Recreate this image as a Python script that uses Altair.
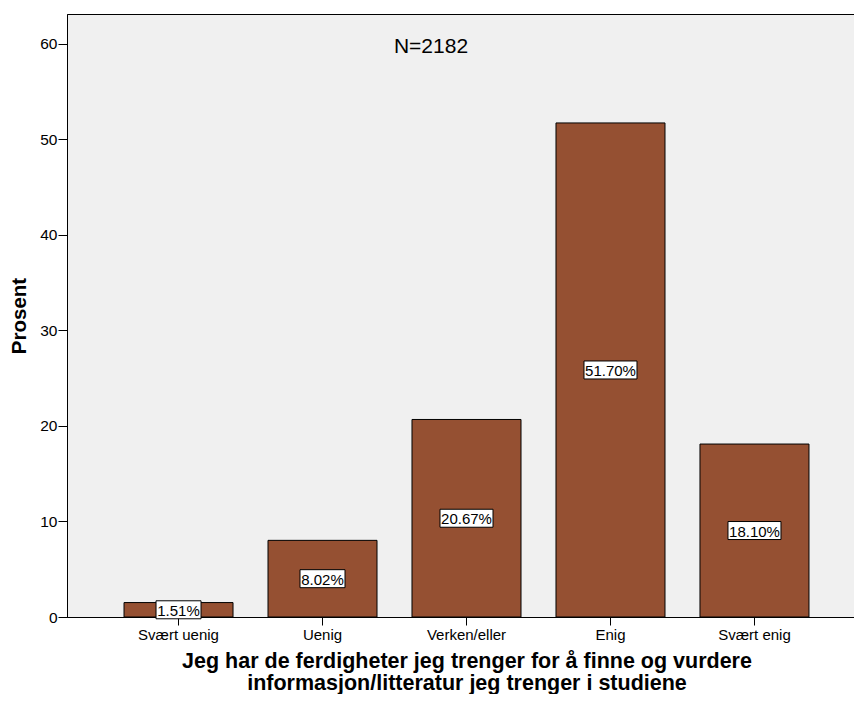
import altair as alt
import pandas as pd

categories = ["Svært uenig", "Uenig", "Verken/eller", "Enig", "Svært enig"]
values = [1.51, 8.02, 20.67, 51.70, 18.10]
labels = ["1.51%", "8.02%", "20.67%", "51.70%", "18.10%"]
y_ticks = [0, 10, 20, 30, 40, 50, 60]
note = "N=2182"

df = pd.DataFrame({"cat": categories, "value": values, "label": labels})
df["n"] = df["label"].str.len()

FONT = "Liberation Sans"

xscale = alt.Scale(domain=categories, paddingInner=0.243, paddingOuter=0.396)
yscale = alt.Scale(domain=[0, 63.1], nice=False)

x_enc = alt.X(
    "cat:N",
    scale=xscale,
    sort=categories,
    axis=alt.Axis(
        title=["Jeg har de ferdigheter jeg trenger for å finne og vurdere",
               "informasjon/litteratur jeg trenger i studiene"],
        titleFontSize=21.5, titleFontWeight="bold", titleFont=FONT, titleColor="black",
        titleLineHeight=22, titlePadding=8,
        labelAngle=0, labelFontSize=15, labelFont=FONT, labelColor="black",
        labelPadding=2, tickSize=8, tickColor="black", domainColor="black",
        grid=False,
    ),
)
y_enc = alt.Y(
    "value:Q",
    scale=yscale,
    axis=alt.Axis(
        title="Prosent", titleFontSize=20.5, titleFontWeight="bold", titleFont=FONT,
        titleColor="black", titlePadding=10,
        values=y_ticks, labelFontSize=15.5, labelFont=FONT, labelColor="black",
        labelPadding=1, tickSize=9, tickColor="black", domainColor="black",
        grid=False,
    ),
)

base = alt.Chart(df)

bars = base.mark_bar(fill="#955032", stroke="black", strokeWidth=1).encode(x=x_enc, y=y_enc)

mid = base.transform_calculate(mid="datum.value / 2")

box6 = mid.transform_filter("datum.n >= 6").mark_bar(
    width=53, fill="white", stroke="black", strokeWidth=1, yOffset=-9, y2Offset=9
).encode(x=alt.X("cat:N", scale=xscale, sort=categories),
         y=alt.Y("mid:Q", scale=yscale), y2="mid:Q")
box5 = mid.transform_filter("datum.n < 6").mark_bar(
    width=45, fill="white", stroke="black", strokeWidth=1, yOffset=-9, y2Offset=9
).encode(x=alt.X("cat:N", scale=xscale, sort=categories),
         y=alt.Y("mid:Q", scale=yscale), y2="mid:Q")

texts = mid.mark_text(font=FONT, fontSize=15, color="black", baseline="middle", dy=1).encode(
    x=alt.X("cat:N", scale=xscale, sort=categories),
    y=alt.Y("mid:Q", scale=yscale),
    text="label:N",
)

ann = alt.Chart(pd.DataFrame({"t": [note]})).mark_text(
    font=FONT, fontSize=21, color="black", baseline="middle", align="center"
).encode(x=alt.value(364), y=alt.value(33), text="t:N")

chart = (
    alt.layer(bars, box6, box5, texts, ann)
    .properties(
        width=799, height=603,
        autosize=alt.AutoSizeParams(type="none"),
        padding={"left": 59, "top": 6, "right": -12, "bottom": 77},
        background="white",
    )
    .configure_view(fill="#F0F0F0", stroke="black", strokeWidth=1)
)

chart.save("out.html", embed_options={"renderer": "svg", "actions": False})
